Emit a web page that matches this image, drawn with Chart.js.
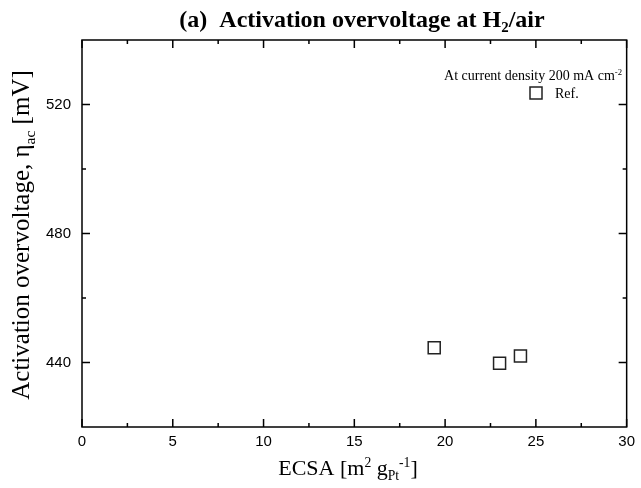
<!DOCTYPE html>
<html>
<head>
<meta charset="utf-8">
<script src="https://cdn.jsdelivr.net/npm/chart.js@4"></script>
<style>
html,body{margin:0;padding:0;background:#fff;}
#c{display:block;}
</style>
</head>
<body>
<canvas id="c" width="641" height="488"></canvas>
<script>
// ---- data ----
const ecsa = [19.4, 23.0, 24.15];
const overvoltage = [444.6, 439.8, 442.0];
const seriesLabel = 'Ref.';
const xMajorTicks = [0, 5, 10, 15, 20, 25, 30];
const xMinorTicks = [2.5, 7.5, 12.5, 17.5, 22.5, 27.5];
const yMajorTicks = [440, 480, 520];
const yMinorTicks = [460, 500];

const SERIF = '"Liberation Serif", "Times New Roman", serif';
const SANS = '"Liberation Sans", Arial, sans-serif';

function drawRich(ctx, segs, x, y, align, size, family, weight) {
  let total = 0;
  const items = segs.map(s => {
    const sz = (s.sub || s.sup) ? size * 0.62 : size;
    ctx.font = `${weight} ${sz}px ${family}`;
    const w = ctx.measureText(s.t).width;
    total += w;
    return {t: s.t, sz, w, dy: s.sub ? size * 0.22 : (s.sup ? -size * 0.38 : 0)};
  });
  let cx = align === 'center' ? x - total / 2 : (align === 'right' ? x - total : x);
  ctx.textAlign = 'left';
  ctx.textBaseline = 'alphabetic';
  items.forEach(it => {
    ctx.font = `${weight} ${it.sz}px ${family}`;
    ctx.fillText(it.t, cx, y + it.dy);
    cx += it.w;
  });
}

const framePlugin = {
  id: 'frame',
  afterDraw(chart) {
    const ctx = chart.ctx;
    const {left, right, top, bottom} = chart.chartArea;
    const xs = chart.scales.x, ys = chart.scales.y;
    ctx.save();
    ctx.strokeStyle = '#000';
    ctx.lineWidth = 1.5;
    ctx.strokeRect(left, top, right - left, bottom - top);
    ctx.beginPath();
    const tick = (arr, len, isX) => arr.forEach(v => {
      if (isX) {
        const p = xs.getPixelForValue(v);
        ctx.moveTo(p, bottom); ctx.lineTo(p, bottom - len);
        ctx.moveTo(p, top); ctx.lineTo(p, top + len);
      } else {
        const p = ys.getPixelForValue(v);
        ctx.moveTo(left, p); ctx.lineTo(left + len, p);
        ctx.moveTo(right, p); ctx.lineTo(right - len, p);
      }
    });
    tick(xMajorTicks, 8, true);
    tick(xMinorTicks, 4, true);
    tick(yMajorTicks, 8, false);
    tick(yMinorTicks, 4, false);
    ctx.stroke();

    ctx.fillStyle = '#000';
    // main title
    drawRich(ctx, [{t: '(a)  Activation overvoltage at H'}, {t: '2', sub: true}, {t: '/air'}],
      362, 27, 'center', 24, SERIF, 'bold');
    // x title
    drawRich(ctx, [{t: 'ECSA [m'}, {t: '2', sup: true}, {t: ' g'}, {t: 'Pt', sub: true}, {t: '-1', sup: true}, {t: ']'}],
      348, 475, 'center', 22, SERIF, 'normal');
    // y title
    ctx.save();
    ctx.translate(29, 235);
    ctx.rotate(-Math.PI / 2);
    drawRich(ctx, [{t: 'Activation overvoltage, η'}, {t: 'ac', sub: true}, {t: ' [mV]'}],
      0, 0, 'center', 25, SERIF, 'normal');
    ctx.restore();
    // legend
    drawRich(ctx, [{t: 'At current density 200 mA cm'}, {t: '-2', sup: true}],
      622, 80, 'right', 14, SERIF, 'normal');
    ctx.lineWidth = 1.5;
    ctx.strokeStyle = '#222';
    ctx.strokeRect(530, 87, 12, 12);
    drawRich(ctx, [{t: seriesLabel}], 555, 98, 'left', 14, SERIF, 'normal');
    ctx.restore();
  }
};

new Chart(document.getElementById('c'), {
  type: 'scatter',
  data: {
    datasets: [{
      label: seriesLabel,
      data: ecsa.map((x, i) => ({x, y: overvoltage[i]})),
      pointStyle: 'rect',
      pointRadius: 8.5,
      pointHoverRadius: 8.5,
      borderColor: '#222',
      borderWidth: 1.5,
      backgroundColor: 'rgba(0,0,0,0)'
    }]
  },
  options: {
    responsive: false,
    animation: false,
    layout: {padding: {top: 40, right: 12, left: 0, bottom: 0}},
    plugins: {legend: {display: false}, title: {display: false}, tooltip: {enabled: false}},
    scales: {
      x: {
        type: 'linear', min: 0, max: 30,
        grid: {display: false, drawTicks: false},
        border: {display: false},
        ticks: {stepSize: 5, color: '#000', padding: 6, font: {family: SANS, size: 15}},
        afterFit(s) { s.height = 61; }
      },
      y: {
        type: 'linear', min: 420, max: 540,
        grid: {display: false, drawTicks: false},
        border: {display: false},
        ticks: {stepSize: 20, autoSkip: false, color: '#000', padding: 11, font: {family: SANS, size: 15},
          callback: v => (v % 40 === 0 ? v : '')},
        afterFit(s) { s.width = 82; }
      }
    }
  },
  plugins: [framePlugin]
});
</script>
</body>
</html>
